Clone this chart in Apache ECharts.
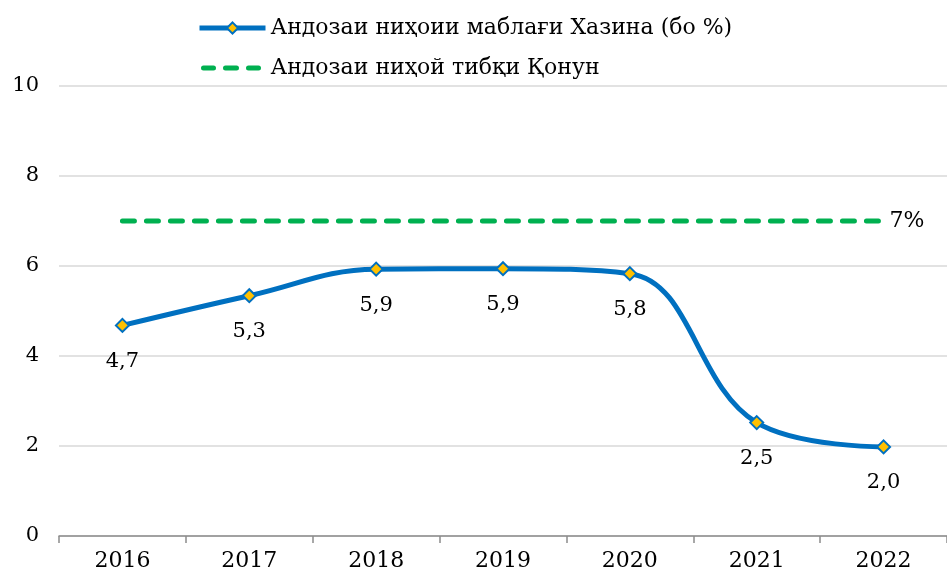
<!DOCTYPE html>
<html><head><meta charset="utf-8">
<script src="https://cdn.jsdelivr.net/npm/echarts@6/dist/echarts.min.js"></script>
<style>html,body{margin:0;padding:0;background:#fff}#c{width:947px;height:581px}</style>
</head><body><div id="c"></div>
<script>
const categories = ['2016','2017','2018','2019','2020','2021','2022'];
const treasuryShare = [4.68, 5.34, 5.93, 5.94, 5.83, 2.52, 1.98];
const legalNorm = [7, 7, 7, 7, 7, 7, 7];
const seriesNames = ['Андозаи ниҳоии маблағи Хазина (бо %)', 'Андозаи ниҳой тибқи Қонун'];
const yTicks = {min: 0, max: 10, interval: 2};

const FONT = 'DejaVu Serif';
const dashIcon = 'path://M0,0 M66,14 ' +
  'M4,4.5 h10 a2.5,2.5 0 0 1 0,5 h-10 a2.5,2.5 0 0 1 0,-5 Z ' +
  'M26,4.5 h11 a2.5,2.5 0 0 1 0,5 h-11 a2.5,2.5 0 0 1 0,-5 Z ' +
  'M49,4.5 h10 a2.5,2.5 0 0 1 0,5 h-10 a2.5,2.5 0 0 1 0,-5 Z';
const chart = echarts.init(document.getElementById('c'));
chart.setOption({
  animation: false,
  textStyle: {fontFamily: FONT, color: '#000'},
  legend: {
    orient: 'vertical', left: 197, top: 17, itemGap: 18, padding: 0,
    itemWidth: 66, itemHeight: 14,
    textStyle: {fontFamily: FONT, fontSize: 22, color: '#000'},
    data: [
      {name: seriesNames[0], lineStyle: {width: 5}},
      {name: seriesNames[1], icon: dashIcon, itemStyle: {color: '#00B050'}}
    ]
  },
  grid: {left: 59, right: -8, top: 86, bottom: 45, containLabel: false},
  xAxis: {
    type: 'category', data: categories, boundaryGap: true,
    axisLine: {lineStyle: {color: '#8c8c8c', width: 1.5}},
    axisTick: {show: true, length: 7, lineStyle: {color: '#8c8c8c', width: 1.5}},
    axisLabel: {fontFamily: FONT, fontSize: 22, color: '#000', margin: 14}
  },
  yAxis: {
    type: 'value', min: yTicks.min, max: yTicks.max, interval: yTicks.interval,
    axisLine: {show: false}, axisTick: {show: false},
    axisLabel: {fontFamily: FONT, fontSize: 21, color: '#000', margin: 20},
    splitLine: {lineStyle: {color: '#d9d9d9', width: 1.5}}
  },
  series: [
    {
      name: seriesNames[1], type: 'line', data: legalNorm,
      symbol: 'none', color: '#00B050',
      lineStyle: {color: '#00B050', width: 5, type: [12, 12], cap: 'round'},
      endLabel: {show: true, distance: 6, formatter: p => p.value + '%', fontFamily: FONT, fontSize: 22, color: '#000'},
      z: 2
    },
    {
      name: seriesNames[0], type: 'line', data: treasuryShare, smooth: 0.4,
      color: '#0070C0',
      lineStyle: {color: '#0070C0', width: 5},
      symbol: 'diamond', symbolSize: 13, showAllSymbol: true,
      itemStyle: {color: '#FFC000', borderColor: '#0070C0', borderWidth: 2},
      label: {show: true, position: 'bottom', distance: 18, fontFamily: FONT, fontSize: 21, color: '#000',
        formatter: p => p.value.toFixed(1).replace('.', ',')},
      z: 3
    }
  ]
});
</script></body></html>
